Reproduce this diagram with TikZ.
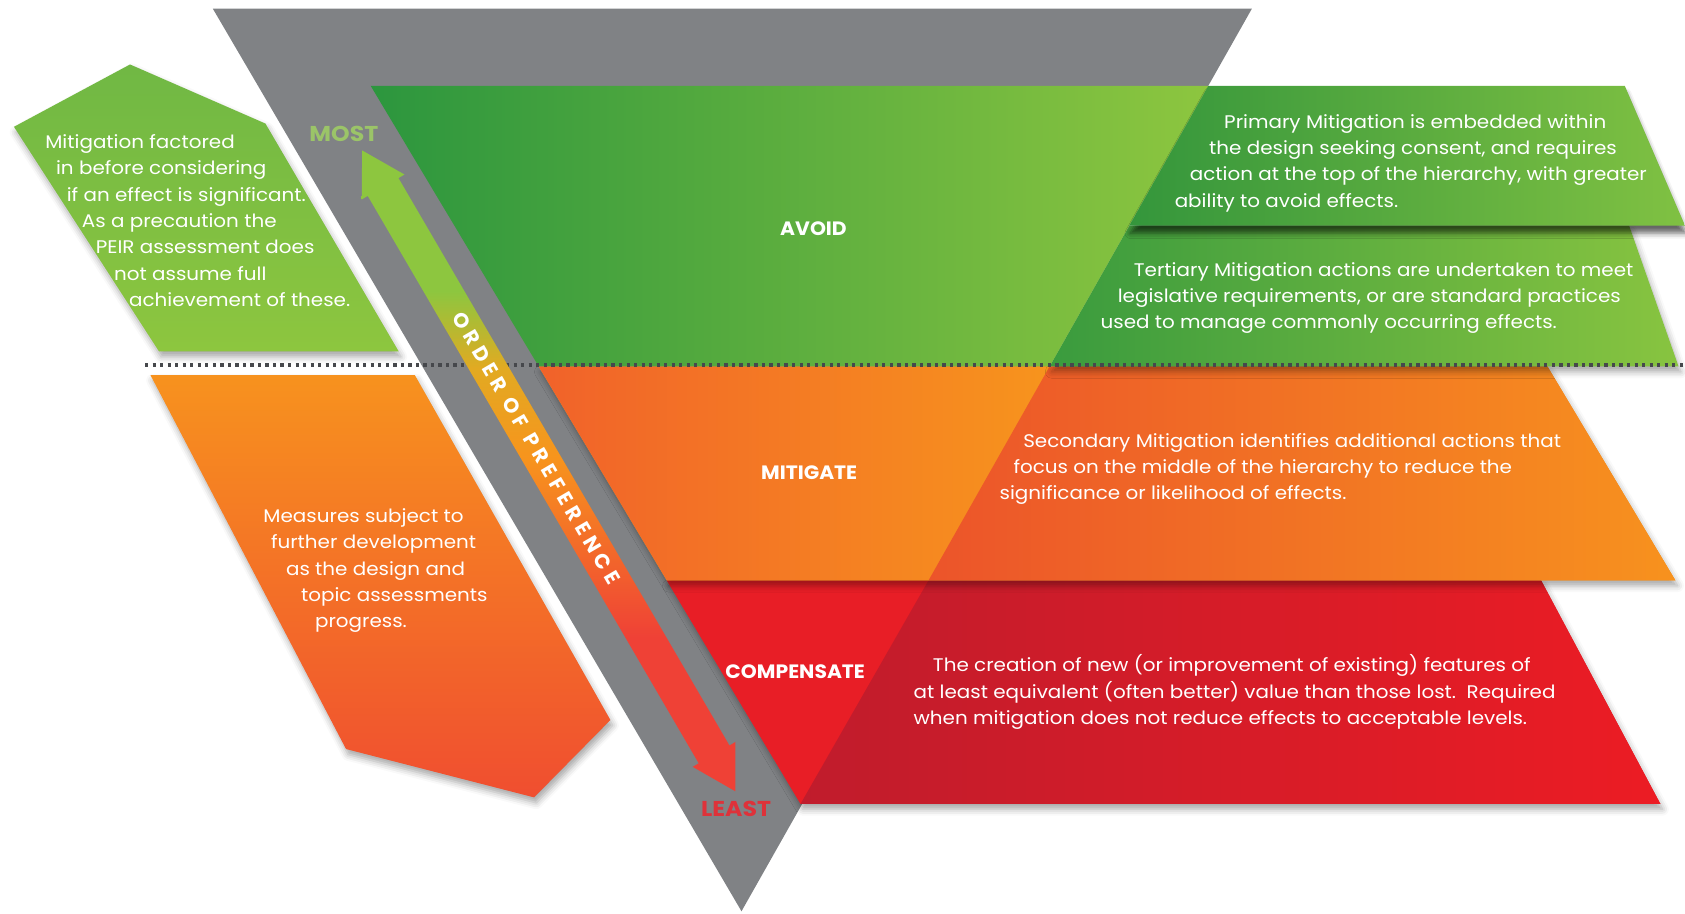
\documentclass[tikz,border=0pt]{standalone}
\usepackage{fontspec}
\setmainfont{Poppins}
\newfontfamily\widefont[FakeStretch=1.09]{Poppins}
\newfontfamily\labelfont[FakeStretch=1.05]{Poppins}
\newfontfamily\endfont[FakeStretch=1.10]{Poppins}
\usetikzlibrary{shadows.blur}

% palette
\definecolor{trigray}{RGB}{128,130,133}
\definecolor{sepgray}{RGB}{70,72,76}
\definecolor{avoidL}{RGB}{44,150,62}
\definecolor{avoidR}{RGB}{141,198,63}
\definecolor{primL}{RGB}{52,150,60}
\definecolor{primR}{RGB}{128,193,66}
\definecolor{tertL}{RGB}{58,155,62}
\definecolor{tertR}{RGB}{136,196,64}
\definecolor{mitL}{RGB}{241,98,42}
\definecolor{mitR}{RGB}{247,148,29}
\definecolor{secL}{RGB}{236,84,42}
\definecolor{secR}{RGB}{247,146,30}
\definecolor{compRed}{RGB}{232,30,38}
\definecolor{redL}{RGB}{192,28,44}
\definecolor{redR}{RGB}{236,28,36}
\definecolor{lgreenT}{RGB}{112,184,68}
\definecolor{lgreenB}{RGB}{141,198,63}
\definecolor{lorangeT}{RGB}{247,146,30}
\definecolor{lorangeB}{RGB}{240,78,48}
\definecolor{arrGreen}{RGB}{141,198,63}
\definecolor{arrGold}{RGB}{226,170,34}
\definecolor{arrOrange}{RGB}{247,148,29}
\definecolor{arrRed}{RGB}{239,65,54}
\definecolor{mostGreen}{RGB}{155,196,104}
\definecolor{leastRed}{RGB}{222,50,58}

% colour ramp of the preference arrow (bottom to top)
\pgfdeclareverticalshading{prefshade}{100bp}{%
  color(0bp)=(arrRed); color(25bp)=(arrRed); color(37bp)=(arrRed);
  color(51bp)=(arrOrange); color(58bp)=(arrGold); color(64bp)=(arrGreen);
  color(75bp)=(arrGreen); color(100bp)=(arrGreen)}

\tikzset{
  bodytext/.style={text=white, font=\widefont\fontsize{17}{24.5}\selectfont,
    align=left, anchor=north west, inner sep=0pt},
  tierlabel/.style={text=white, font=\labelfont\bfseries\fontsize{18}{20}\selectfont, inner sep=0pt},
  endlabel/.style={font=\endfont\bfseries\fontsize{20}{22}\selectfont, inner sep=0pt},
  panelshadow/.style={blur shadow={shadow xshift=2pt, shadow yshift=-5pt,
    shadow blur radius=6pt, shadow opacity=35}},
  deepshadow/.style={blur shadow={shadow xshift=1pt, shadow yshift=-7pt,
    shadow blur radius=5pt, shadow opacity=60}},
  sepline/.style={draw=sepgray, line width=3.5pt, dash pattern=on 3pt off 4pt},
}

\begin{document}
\begin{tikzpicture}[x=1pt, y=-1pt]
\useasboundingbox (0,0) rectangle (1568,850);

% inverted grey triangle
\fill[trigray] (198,8) -- (1165,8) -- (690,848) -- cycle;

% side panels on the left
\shade[top color=lgreenT, bottom color=lgreenB, panelshadow]
  (121,60) -- (247,115) -- (371,327) -- (148,327) -- (13,118) -- cycle;
\shade[top color=lorangeT, bottom color=lorangeB, panelshadow]
  (140,349) -- (386,349) -- (568,670) -- (497,742) -- (322,697) -- cycle;

% compensate tier
\fill[redR, panelshadow] (620.5,540) -- (1434,540) -- (1545,748) -- (745,748) -- cycle;
\fill[compRed] (620.5,540) -- (864.1,540) -- (745,748) -- cycle;
\shade[left color=redL, right color=redR]
  (864.1,540) -- (1434,540) -- (1545,748) -- (745,748) -- cycle;

% mitigate tier
\fill[mitR, panelshadow] (501.3,341) -- (1440,341) -- (1559,540) -- (620.5,540) -- cycle;
\shade[left color=mitL, middle color=mitR, right color=mitR]
  (501.3,341) -- (976.7,341) -- (864.1,540) -- (620.5,540) -- cycle;
\shade[left color=secL, right color=secR]
  (976.7,341) -- (1440,341) -- (1559,540) -- (864.1,540) -- cycle;

% avoid tier
\shade[left color=tertL, right color=tertR, panelshadow]
  (976.7,341) -- (1050.8,210) -- (1516,210) -- (1562,341) -- cycle;
\shade[left color=avoidL, right color=avoidR]
  (345,80) -- (1124.3,80) -- (976.7,341) -- (501.3,341) -- cycle;
\shade[left color=primL, right color=primR, deepshadow]
  (1124.3,80) -- (1512,80) -- (1568,210) -- (1050.8,210) -- cycle;

% dotted divider
\draw[sepline] (135,340) -- (1568,340);

% double-headed preference arrow (tips point straight up and down)
\shade[shading=prefshade]
  (337,140) -- (376.4,162.4) -- (370.8,165.7) -- (678.8,693.7) -- (684.4,690.4)
  -- (684.4,736.4) -- (644.6,713.6) -- (650.2,710.3) -- (342.2,182.3) -- (336.6,185.6) -- cycle;
\node[rotate=-59.7, text=white, inner sep=0pt,
      font=\bfseries\fontsize{19}{21}\selectfont\addfontfeature{LetterSpace=25}]
  (order) at (499,417) {ORDER OF PREFERENCE};

\node[endlabel, text=mostGreen] (most) at (320,125) {MOST};
\node[endlabel, text=leastRed] (least) at (685,753) {LEAST};

% tier names
\node[tierlabel] (avoid) at (757,213) {AVOID};
\node[tierlabel] (mitigate) at (753,440) {MITIGATE};
\node[tierlabel] (compensate) at (740,625) {COMPENSATE};

% descriptions
\node[bodytext] (primary) at (1093,106) {%
  \hspace*{46pt}Primary Mitigation is embedded within\\
  \hspace*{32pt}the design seeking consent, and requires\\
  \hspace*{14pt}action at the top of the hierarchy, with greater\\
  ability to avoid effects.};
\node[bodytext] (tertiary) at (1024,244) {%
  \hspace*{31pt}Tertiary Mitigation actions are undertaken to meet\\
  \hspace*{16pt}legislative requirements, or are standard practices\\
  used to manage commonly occurring effects.};
\node[bodytext] (secondary) at (930,403) {%
  \hspace*{22pt}Secondary Mitigation identifies additional actions that\\
  \hspace*{13pt}focus on the middle of the hierarchy to reduce the\\
  significance or likelihood of effects.};
\node[bodytext] (creation) at (850,609) {%
  \hspace*{18pt}The creation of new (or improvement of existing) features of\\
  at least equivalent (often better) value than those lost.\ \ Required\\
  when mitigation does not reduce effects to acceptable levels.};
\node[bodytext] (factored) at (42,125) {%
  Mitigation factored\\
  \hspace*{10pt}in before considering\\
  \hspace*{20pt}if an effect is significant.\\
  \hspace*{34pt}As a precaution the\\
  \hspace*{47pt}PEIR assessment does\\
  \hspace*{64pt}not assume full\\
  \hspace*{78pt}achievement of these.};
\node[bodytext] (measures) at (245,473) {%
  Measures subject to\\
  \hspace*{7pt}further development\\
  \hspace*{21pt}as the design and\\
  \hspace*{35pt}topic assessments\\
  \hspace*{48pt}progress.};
\end{tikzpicture}
\end{document}
